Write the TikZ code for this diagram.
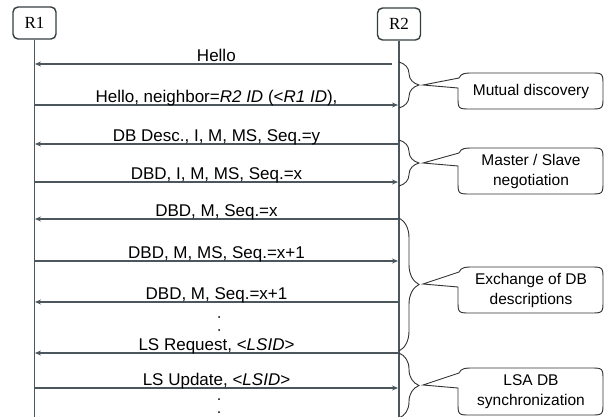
\documentclass[tikz,border=0pt]{standalone}
\usepackage{fontspec}
\setmainfont{Liberation Sans}
\newfontfamily\rserif{Liberation Serif}
\usetikzlibrary{arrows.meta,decorations.pathreplacing,calc}
\definecolor{lifec}{HTML}{4B575C}
\definecolor{callc}{HTML}{333333}
\tikzset{
  router/.style={draw=lifec!70!black, line width=1.4pt, rounded corners=5pt, minimum width=43pt, minimum height=32pt, inner sep=0pt, font=\rserif\fontsize{17}{19}\selectfont},
  life/.style={draw=lifec, line width=1.6pt},
  msg/.style={draw=lifec, line width=1.3pt, -{Stealth[length=6pt,width=5pt]}},
  lbl/.style={anchor=base, yshift=2.5pt, inner sep=0pt, font=\fontsize{17}{19}\selectfont},
  dotmark/.style={fill=black, circle, inner sep=0pt, minimum size=2pt},
  bracestyle/.style={draw=callc, line width=0.9pt, decorate, decoration={brace, amplitude=20pt, aspect=0.5}},
  callline/.style={draw=callc, line width=0.9pt},
  calltext/.style={align=center, inner sep=0pt, font=\fontsize{15.5}{20}\selectfont},
}
% #1 top, #2 bottom, #3 tip y
\newcommand{\mycallout}[3]{%
  \draw[callline] (423,#3) -- (459,{#1+5}) .. controls (461,#1) and (466,#1) .. (472,#1)
    -- (590,#1) .. controls (603,#1) .. (603,{#1+13}) -- (603,{#2-13})
    .. controls (603,#2) .. (590,#2) -- (471,#2) .. controls (458,#2) .. (458,{#2-13})
    -- (458,{#3+3}) -- cycle;}
\begin{document}
\begin{tikzpicture}[x=1pt,y=-1pt]
\useasboundingbox (0,0) rectangle (605,417);
\node[router] (r1) at (34.5,23) {R1};
\node[router] (r2) at (399,24) {R2};
\coordinate (b1) at (r1.south |- 0,418);
\coordinate (b2) at (r2.south |- 0,418);
\draw[life] (r1.south) -- (b1);
\draw[life] (r2.south) -- (b2);
% lifeline points
\foreach \n/\y in {1/64,2/105,3/144,4/182,5/219,6/261,7/302,8/353,9/388}{
  \coordinate (L\n) at (35,\y);
  \coordinate (R\n) at (398,\y);
}
\coordinate (R1s) at (392,64);
\draw[msg] (R1s) -- (L1) node[lbl, pos=0.492] (m1) {Hello};
\draw[msg] (L2) -- (R2) node[lbl, midway] (m2) {Hello, neighbor=\textit{R2 ID} (<\textit{R1 ID}),};
\draw[msg] (R3) -- (L3) node[lbl, midway] (m3) {DB Desc., I, M, MS, Seq.=y};
\draw[msg] (L4) -- (R4) node[lbl, midway] (m4) {DBD, I, M, MS, Seq.=x};
\draw[msg] (R5) -- (L5) node[lbl, midway] (m5) {DBD, M, Seq.=x};
\draw[msg] (L6) -- (R6) node[lbl, midway] (m6) {DBD, M, MS, Seq.=x+1};
\draw[msg] (R7) -- (L7) node[lbl, midway] (m7) {DBD, M, Seq.=x+1};
\draw[msg] (R8) -- (L8) node[lbl, midway] (m8) {LS Request, <\textit{LSID}>};
\draw[msg] (L9) -- (R9) node[lbl, midway] (m9) {LS Update, <\textit{LSID}>};
% dots
\node[dotmark] (d1) at (219,317) {};
\node[dotmark] (d2) at (219,330) {};
\node[dotmark] (d3) at (219,399) {};
\node[dotmark] (d4) at (219,412) {};
% braces
\draw[bracestyle] (399,62) -- (399,108);
\draw[bracestyle] (399,140) -- (399,186);
\draw[bracestyle] (399,218) -- (399,351);
\draw[bracestyle] (399,353) -- (399,418);
% callouts
\mycallout{73}{109}{85}
\node[calltext] (c1) at (531,91) {Mutual discovery};
\mycallout{148}{194}{163}
\node[calltext] (c2) at (531,171) {Master / Slave\\negotiation};
\mycallout{267}{313}{284}
\node[calltext] (c3) at (531,290) {Exchange of DB\\descriptions};
\mycallout{368}{415}{385}
\node[calltext] (c4) at (531,392) {LSA DB\\synchronization};
\end{tikzpicture}
\end{document}
